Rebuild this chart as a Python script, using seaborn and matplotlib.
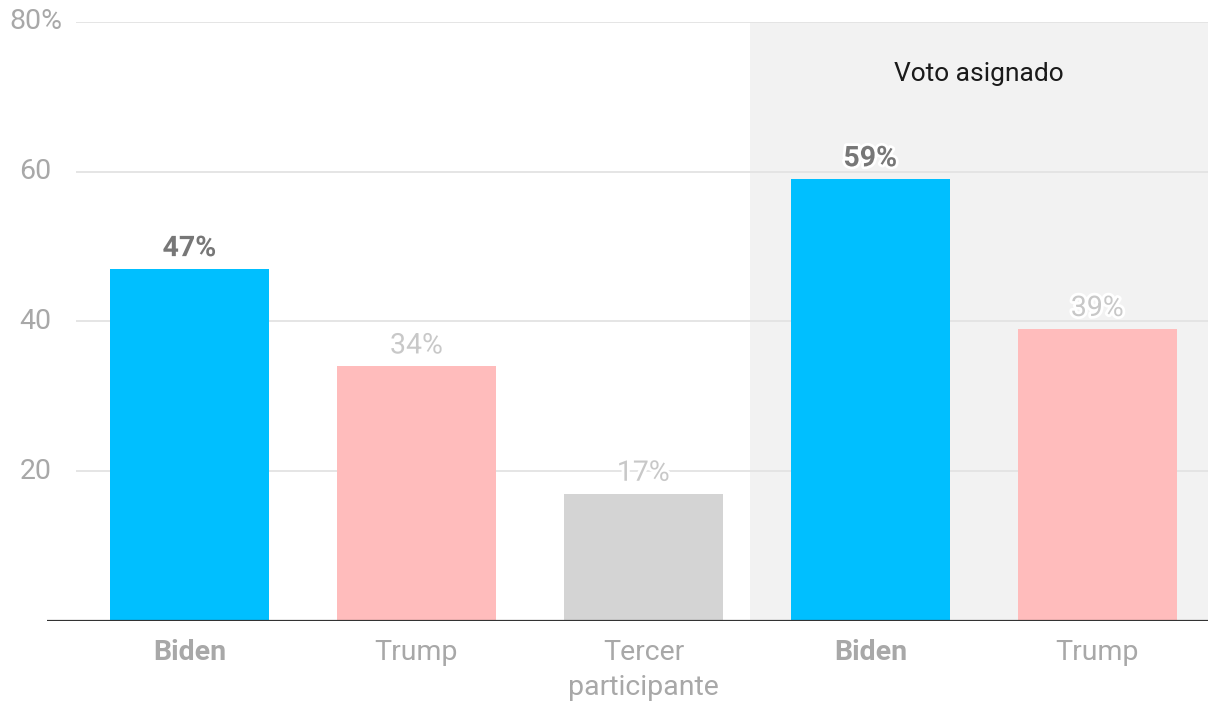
import matplotlib
matplotlib.use("Agg")
import matplotlib.pyplot as plt
import matplotlib.patheffects as pe
import seaborn as sns
import pandas as pd

keys = ["b1", "t1", "o1", "b2", "t2"]
labels = ["Biden", "Trump", "Tercer\nparticipante", "Biden", "Trump"]
values = [47, 34, 17, 59, 39]
colors = ["#00BFFF", "#FFBCBC", "#D4D4D4", "#00BFFF", "#FFBCBC"]
bold = [True, False, False, True, False]
yticks = [20, 40, 60, 80]
shade_label = "Voto asignado"

sns.set_theme(style="white")
plt.rcParams["font.family"] = ["Roboto", "DejaVu Sans"]

df = pd.DataFrame({"key": keys, "value": values})

fig = plt.figure(figsize=(12.2, 7.18), dpi=100)
ax = fig.add_axes([0.0385, 0.1351, 0.9515, 0.8343])

sns.barplot(data=df, x="key", y="value", hue="key", order=keys, hue_order=keys,
            palette=colors, legend=False, width=0.7, saturation=1, ax=ax,
            zorder=3, linewidth=0, edgecolor="none")

xl, xr = -0.628, 4.487
ax.set_xlim(xl, xr)
ax.set_ylim(0, 80)

# shaded region
ax.axvspan(2.469, xr, color="#F2F2F2", zorder=0, lw=0)
ax.text((2.469 + xr) / 2, 73, shade_label, ha="center", va="center",
        fontsize=19, color="#1a1a1a", zorder=5)

# gridlines
for y in yticks:
    ax.hlines(y, -0.5, xr, color="#e3e3e3", lw=1.3, zorder=1)
    ax.text(xl - 0.05, y, f"{y}%" if y == 80 else f"{y}",
            ha="center", va="center", fontsize=20.5, color="#a8a8a8")
ax.axhline(0, color="#333333", lw=1.6, zorder=4)

for s in ax.spines.values():
    s.set_visible(False)
ax.set_yticks([])
ax.set_ylabel("")
ax.set_xlabel("")
ax.set_xticks(range(len(keys)))
ax.set_xticklabels(labels)
ax.tick_params(axis="x", length=0, pad=13)
for tl, b in zip(ax.get_xticklabels(), bold):
    tl.set_fontsize(20.5)
    tl.set_color("#a8a8a8")
    tl.set_linespacing(1.4)
    tl.set_va("top")
    if b:
        tl.set_fontweight("bold")

for i, (v, b) in enumerate(zip(values, bold)):
    t = ax.annotate(f"{v}%", (i, v), xytext=(0, 5), textcoords="offset points",
                    ha="center", va="bottom", fontsize=20.5,
                    color="#777777" if b else "#c8c8c8",
                    fontweight="bold" if b else "normal", zorder=6)
    t.set_path_effects([pe.withStroke(linewidth=4, foreground="white")])

fig.savefig("out.png", dpi=100)
